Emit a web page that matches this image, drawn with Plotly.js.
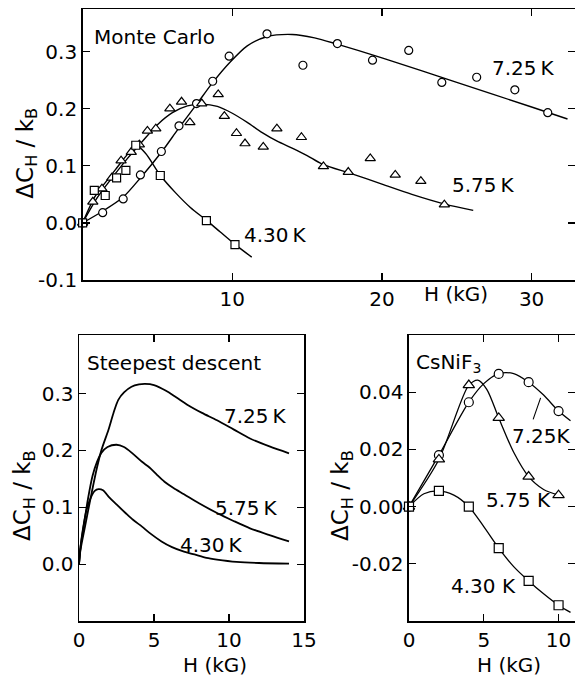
<!DOCTYPE html>
<html><head><meta charset="utf-8">
<script src="https://cdn.plot.ly/plotly-3.0.1.min.js"></script>
<style>html,body{margin:0;padding:0;background:#fff}#chart{width:575px;height:684px}</style>
</head><body><div id="chart"></div>
<script>
// ---------- Monte Carlo (top panel) ----------
const mcH725 = [0, 1.34, 2.71, 3.86, 5.26, 6.44, 7.61, 8.69, 9.79, 12.32, 14.72, 17.02, 19.37, 21.79, 24.0, 26.33, 28.88, 31.08];
const mcC725 = [0, 0.018, 0.042, 0.084, 0.125, 0.170, 0.209, 0.248, 0.292, 0.331, 0.276, 0.314, 0.285, 0.302, 0.246, 0.255, 0.233, 0.193];
const mcH575 = [0, 0.68, 1.29, 1.95, 2.57, 3.25, 3.79, 4.33, 4.89, 5.83, 6.61, 7.17, 7.96, 9.06, 9.47, 10.28, 10.85, 12.07, 12.98, 14.62, 16.09, 17.75, 19.22, 20.89, 22.6, 24.17];
const mcC575 = [0, 0.037, 0.060, 0.079, 0.109, 0.124, 0.137, 0.161, 0.165, 0.200, 0.212, 0.176, 0.209, 0.225, 0.187, 0.157, 0.139, 0.133, 0.165, 0.150, 0.099, 0.089, 0.113, 0.084, 0.073, 0.032];
const mcH430 = [0, 0.78, 1.51, 2.27, 2.89, 3.55, 5.19, 8.27, 10.18];
const mcC430 = [0, 0.057, 0.048, 0.079, 0.092, 0.136, 0.083, 0.004, -0.038];
// fitted curves
const mcFitH725 = [0, 1.3, 2.7, 3.9, 5.3, 6.4, 7.6, 8.7, 9.8, 11, 12.3, 14, 15.5, 17, 20, 25, 30, 32.4];
const mcFitC725 = [0, 0.02, 0.045, 0.08, 0.125, 0.165, 0.207, 0.246, 0.28, 0.31, 0.326, 0.330, 0.324, 0.313, 0.289, 0.246, 0.203, 0.182];
const mcFitH575 = [0, 1, 2, 3, 4, 5, 6, 7, 8, 9, 10, 11, 12, 13, 14, 15, 16, 18, 20, 22, 24.2, 26.1];
const mcFitC575 = [0, 0.045, 0.080, 0.113, 0.143, 0.172, 0.193, 0.205, 0.208, 0.204, 0.192, 0.176, 0.158, 0.143, 0.131, 0.118, 0.103, 0.086, 0.068, 0.050, 0.033, 0.022];
const mcFitH430 = [0, 0.8, 1.5, 2.3, 2.9, 3.6, 4.2, 5.2, 6.2, 7.2, 8.3, 9.2, 10.2, 11.3];
const mcFitC430 = [0, 0.045, 0.07, 0.097, 0.117, 0.135, 0.122, 0.083, 0.053, 0.027, 0.004, -0.016, -0.038, -0.060];

// ---------- Steepest descent (bottom left) ----------
const sdH725 = [0, 0.1, 0.4, 0.84, 1.2, 1.5, 1.96, 2.3, 2.62, 3.0, 3.5, 4.0, 4.4, 5.0, 5.8, 6.5, 7.3, 8.2, 9.2, 10.3, 11.4, 12.7, 14];
const sdC725 = [0, 0.025, 0.066, 0.125, 0.17, 0.201, 0.236, 0.266, 0.289, 0.302, 0.312, 0.316, 0.317, 0.315, 0.305, 0.293, 0.279, 0.266, 0.253, 0.237, 0.221, 0.207, 0.195];
const sdH575 = [0, 0.1, 0.3, 0.6, 0.9, 1.2, 1.5, 1.9, 2.5, 3.0, 3.6, 4.2, 4.7, 5.2, 5.7, 6.3, 7.0, 8.0, 9.2, 10.3, 11.4, 12.7, 14];
const sdC575 = [0, 0.03, 0.065, 0.115, 0.155, 0.18, 0.196, 0.206, 0.21, 0.206, 0.194, 0.180, 0.170, 0.157, 0.145, 0.134, 0.123, 0.107, 0.09, 0.076, 0.063, 0.051, 0.040];
const sdH430 = [0, 0.1, 0.25, 0.5, 0.8, 1.05, 1.3, 1.6, 2.0, 2.5, 3.1, 3.6, 4.2, 4.7, 5.5, 6.2, 7.0, 7.7, 8.5, 9.2, 10.5, 12, 14];
const sdC430 = [0, 0.03, 0.06, 0.095, 0.118, 0.129, 0.132, 0.130, 0.118, 0.105, 0.09, 0.078, 0.066, 0.055, 0.040, 0.030, 0.022, 0.017, 0.011, 0.008, 0.004, 0.002, 0.001];

// ---------- CsNiF3 (bottom right) ----------
const csH = [0, 2, 4, 6, 8, 10];
const csC725 = [0, 0.018, 0.0365, 0.0464, 0.0435, 0.0334];
const csC575 = [0, 0.0165, 0.0425, 0.031, 0.0105, 0.004];
const csC430 = [0, 0.0055, 0.0, -0.0145, -0.026, -0.0345];
const csFitH725 = [0, 2, 4, 5, 6, 7, 8, 9, 10, 10.8];
const csFitC725 = [0, 0.018, 0.0365, 0.043, 0.0465, 0.0465, 0.0435, 0.039, 0.0334, 0.030];
const csFitH575 = [0, 2, 4, 4.6, 5.2, 6, 7, 8, 9, 10];
const csFitC575 = [0, 0.0165, 0.0425, 0.0442, 0.041, 0.031, 0.019, 0.0105, 0.006, 0.004];
const csFitH430 = [0, 1, 2, 3, 4, 5, 6, 7, 8, 9, 10, 10.8];
const csFitC430 = [0, 0.0045, 0.0055, 0.004, 0.0, -0.007, -0.0145, -0.021, -0.026, -0.0305, -0.0345, -0.037];

// ticks
const mcXTicks = [10, 20, 30];
const mcYTicks = [-0.1, 0, 0.1, 0.2, 0.3];
const mcYText = ['-0.1', '0.0', '0.1', '0.2', '0.3'];
const sdXTicks = [0, 5, 10, 15];
const sdYTicks = [0, 0.1, 0.2, 0.3];
const sdYText = ['0.0', '0.1', '0.2', '0.3'];
const csXTicks = [0, 5, 10];
const csYTicks = [-0.02, 0, 0.02, 0.04];
const csYText = ['-0.02', '0.00', '0.02', '0.04'];

const FONT = 'DejaVu Sans';
const YTITLE = '\u0394C<sub>H</sub> / k<sub>B</sub>';

function fit(x, y, xa, ya, w) {
  return {x: x, y: y, xaxis: xa, yaxis: ya, mode: 'lines', type: 'scatter',
    line: {color: '#000', width: w, shape: 'spline', smoothing: 0.8},
    hoverinfo: 'skip', showlegend: false};
}
function marks(x, y, xa, ya, sym, size) {
  return {x: x, y: y, xaxis: xa, yaxis: ya, mode: 'markers', type: 'scatter',
    marker: {symbol: sym, size: size, color: '#fff', line: {color: '#000', width: 1.2}},
    cliponaxis: false, showlegend: false};
}

const traces = [
  fit(mcFitH725, mcFitC725, 'x', 'y', 1.4),
  fit(mcFitH575, mcFitC575, 'x', 'y', 1.4),
  fit(mcFitH430, mcFitC430, 'x', 'y', 1.4),
  marks(mcH725, mcC725, 'x', 'y', 'circle', 8),
  marks(mcH575, mcC575, 'x', 'y', 'triangle-up', 9),
  marks(mcH430, mcC430, 'x', 'y', 'square', 8),
  fit(sdH725, sdC725, 'x2', 'y2', 1.8),
  fit(sdH575, sdC575, 'x2', 'y2', 1.8),
  fit(sdH430, sdC430, 'x2', 'y2', 1.8),
  fit(csFitH725, csFitC725, 'x3', 'y3', 1.3),
  fit(csFitH575, csFitC575, 'x3', 'y3', 1.3),
  fit(csFitH430, csFitC430, 'x3', 'y3', 1.3),
  marks(csH, csC725, 'x3', 'y3', 'circle', 9),
  marks(csH, csC575, 'x3', 'y3', 'triangle-up', 10),
  marks(csH, csC430, 'x3', 'y3', 'square', 9)
];

function axis(extra) {
  return Object.assign({
    showline: true, linecolor: '#000', linewidth: 1.5, mirror: 'ticks',
    ticks: 'inside', ticklen: 7, tickwidth: 1.3, tickcolor: '#000',
    showgrid: false, zeroline: false, fixedrange: true,
    tickfont: {family: FONT, size: 20, color: '#000'}
  }, extra);
}

function txt(text, x, y, size, extra) {
  return Object.assign({text: text, xref: 'paper', yref: 'paper', x: x, y: y,
    showarrow: false, xanchor: 'center', yanchor: 'middle',
    font: {family: FONT, size: size, color: '#000'}}, extra || {});
}

const TS = '\u2009';
const annotations = [
  txt('Monte Carlo', 0.1595, 0.9463, 20, {xanchor: 'left'}),
  txt('Steepest descent', 0.1478, 0.4697, 20, {xanchor: 'left'}),
  txt('CsNiF<sub>3</sub>', 0.7207, 0.4693, 20, {xanchor: 'left'}),
  txt(YTITLE, 0.0463, 0.7763, 23, {textangle: -90}),
  txt(YTITLE, 0.0417, 0.2763, 23, {textangle: -90}),
  txt(YTITLE, 0.5948, 0.2749, 23, {textangle: -90}),
  txt('H (kG)', 0.7922, 0.5702, 20),
  txt('H (kG)', 0.3739, 0.0278, 20),
  txt('H (kG)', 0.8852, 0.0278, 20),
  txt('7.25' + TS + 'K', 0.9113, 0.8999, 20),
  txt('5.75' + TS + 'K', 0.8400, 0.7300, 20),
  txt('4.30' + TS + 'K', 0.4783, 0.6564, 20),
  txt('7.25' + TS + 'K', 0.4452, 0.3911, 20),
  txt('5.75' + TS + 'K', 0.4287, 0.2580, 20),
  txt('4.30' + TS + 'K', 0.3682, 0.2032, 20),
  txt('7.25K', 0.9421, 0.3626, 20),
  txt('5.75 K', 0.9009, 0.2690, 20),
  txt('4.30 K', 0.8400, 0.1440, 20),
  {text: '', xref: 'x3', yref: 'y3', x: 8.8, y: 0.038, showarrow: true,
   arrowhead: 0, arrowwidth: 1.1, arrowcolor: '#000', ax: -8, ay: 23, standoff: 0}
];

const layout = {
  width: 575, height: 684, margin: {l: 0, r: 0, t: 0, b: 0},
  paper_bgcolor: '#fff', plot_bgcolor: 'rgba(0,0,0,0)', showlegend: false,
  font: {family: FONT, color: '#000'},
  xaxis: axis({domain: [0.1437, 1], range: [0, 32.9], tickvals: mcXTicks, anchor: 'y'}),
  yaxis: axis({domain: [0.5906, 0.9864], range: [-0.1, 0.374], tickvals: mcYTicks, ticktext: mcYText, anchor: 'x'}),
  xaxis2: axis({domain: [0.1374, 0.5287], range: [0, 15], tickvals: sdXTicks, anchor: 'y2'}),
  yaxis2: axis({domain: [0.0921, 0.5102], range: [-0.1, 0.403], tickvals: sdYTicks, ticktext: sdYText, anchor: 'x2'}),
  xaxis3: axis({domain: [0.7113, 1], range: [0, 11.1], tickvals: csXTicks, anchor: 'y3'}),
  yaxis3: axis({domain: [0.0921, 0.5102], range: [-0.04, 0.06], tickvals: csYTicks, ticktext: csYText, anchor: 'x3'}),
  annotations: annotations
};

Plotly.newPlot('chart', traces, layout, {staticPlot: true, displayModeBar: false});
</script>
</body></html>
